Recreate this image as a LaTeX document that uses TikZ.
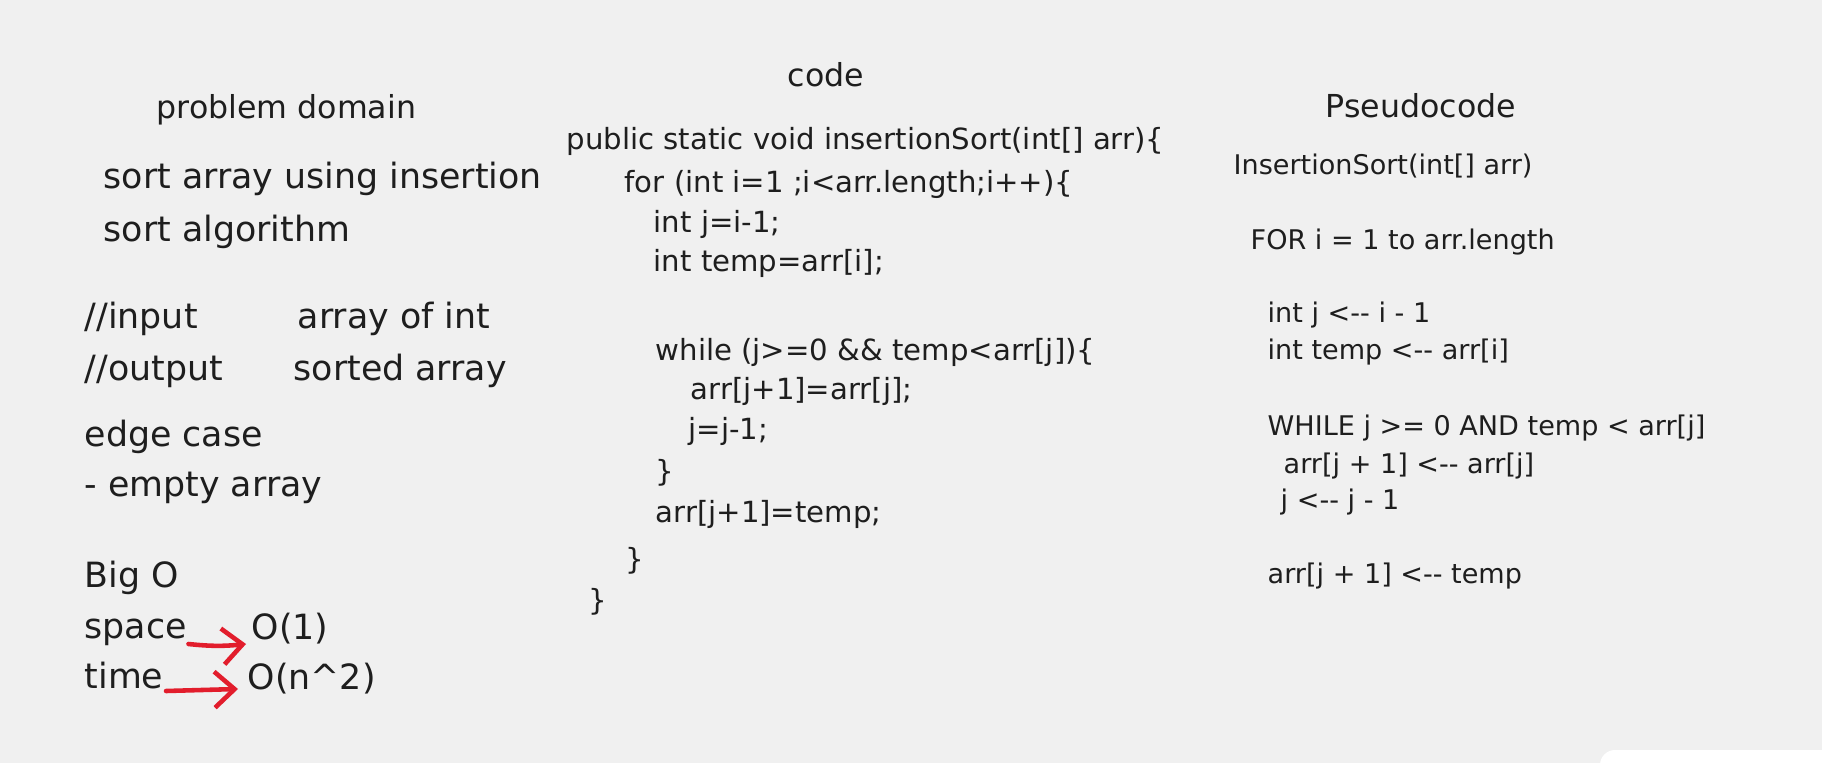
\documentclass[tikz,border=0pt]{standalone}
\usepackage{fontspec}
\setmainfont{DejaVu Sans}
\usetikzlibrary{arrows.meta, positioning}
\definecolor{ink}{RGB}{30,30,30}
\definecolor{paper}{RGB}{240,240,240}
\definecolor{penred}{RGB}{226,29,44}

\begin{document}
\begin{tikzpicture}[
        heading/.style={anchor=base west, inner sep=0pt, text=ink, font=\fontsize{9}{11}\selectfont},
        note/.style={anchor=base west, inner sep=0pt, text=ink, font=\fontsize{9.9}{12}\selectfont},
        codeline/.style={anchor=base west, inner sep=0pt, text=ink, font=\fontsize{8.3}{10}\selectfont},
        pseudo/.style={anchor=base west, inner sep=0pt, text=ink, font=\fontsize{7.7}{9}\selectfont},
        arrow/.style={-{Straight Barb[length=2mm, width=3.6mm]}, penred, line width=1.3pt, line cap=round}
    ]
        % Canvas
        \fill[paper] (0, 0) rectangle (18.22, -7.63);
        \useasboundingbox (0, 0) rectangle (18.22, -7.63);
        \fill[black!6, rounded corners=0.15cm] (15.98, -7.48) rectangle (18.5, -8);
        \fill[white, rounded corners=0.15cm] (16, -7.5) rectangle (18.5, -8);

        % Problem domain
        \node[heading] (domain) at (1.56, -1.19) {problem domain};
        \node[note] (sorta) at (1.03, -1.89) {sort array using insertion};
        \node[note] (sortb) at (1.03, -2.42) {sort algorithm};
        \node[note] (inl) at (0.84, -3.29) {//input};
        \node[note] (inv) at (2.97, -3.29) {array of int};
        \node[note] (outl) at (0.84, -3.81) {//output};
        \node[note] (outv) at (2.93, -3.81) {sorted array};
        \node[note] (edge) at (0.84, -4.47) {edge case};
        \node[note] (empty) at (0.84, -4.97) {- empty array};

        % Big O
        \node[note] (bigo) at (0.84, -5.87) {Big O};
        \node[note] (space) at (0.84, -6.39) {space};
        \node[note] (spacev) at (2.51, -6.40) {O(1)};
        \node[note] (time) at (0.84, -6.88) {time};
        \node[note] (timev) at (2.47, -6.89) {O(n\textasciicircum 2)};

        \draw[arrow] ([shift={(0.01, -0.05)}]space.base east) to[bend right=6] ([shift={(-0.05, -0.04)}]spacev.base west);
        \draw[arrow] ([shift={(0.02, -0.03)}]time.base east) -- ([shift={(-0.09, 0.0)}]timev.base west);

        % Code
        \node[heading] (code) at (7.87, -0.87) {code};
        \node[codeline] (c1) at (5.66, -1.50) {public static void insertionSort(int[] arr)\{};
        \node[codeline] (c2) at (6.24, -1.93) {for (int i=1 ;i<arr.length;i++)\{};
        \node[codeline] (c3) at (6.53, -2.33) {int j=i-1;};
        \node[codeline] (c4) at (6.53, -2.72) {int temp=arr[i];};
        \node[codeline] (c5) at (6.55, -3.61) {while (j>=0 \&\& temp<arr[j])\{};
        \node[codeline] (c6) at (6.90, -4.00) {arr[j+1]=arr[j];};
        \node[codeline] (c7) at (6.88, -4.40) {j=j-1;};
        \node[codeline] (c8) at (6.55, -4.82) {\}};
        \node[codeline] (c9) at (6.55, -5.23) {arr[j+1]=temp;};
        \node[codeline] (c10) at (6.25, -5.70) {\}};
        \node[codeline] (c11) at (5.88, -6.11) {\}};

        % Pseudocode
        \node[heading] (pseud) at (13.25, -1.18) {Pseudocode};
        \node[pseudo] (p1) at (12.33, -1.75) {InsertionSort(int[] arr)};
        \node[pseudo] (p2) at (12.50, -2.50) {FOR i = 1 to arr.length};
        \node[pseudo] (p3) at (12.67, -3.23) {int j <-{}- i - 1};
        \node[pseudo] (p4) at (12.67, -3.60) {int temp <-{}- arr[i]};
        \node[pseudo] (p5) at (12.67, -4.36) {WHILE j >= 0 AND temp < arr[j]};
        \node[pseudo] (p6) at (12.83, -4.74) {arr[j + 1] <-{}- arr[j]};
        \node[pseudo] (p7) at (12.80, -5.10) {j <-{}- j - 1};
        \node[pseudo] (p8) at (12.67, -5.84) {arr[j + 1] <-{}- temp};
    \end{tikzpicture}
\end{document}
